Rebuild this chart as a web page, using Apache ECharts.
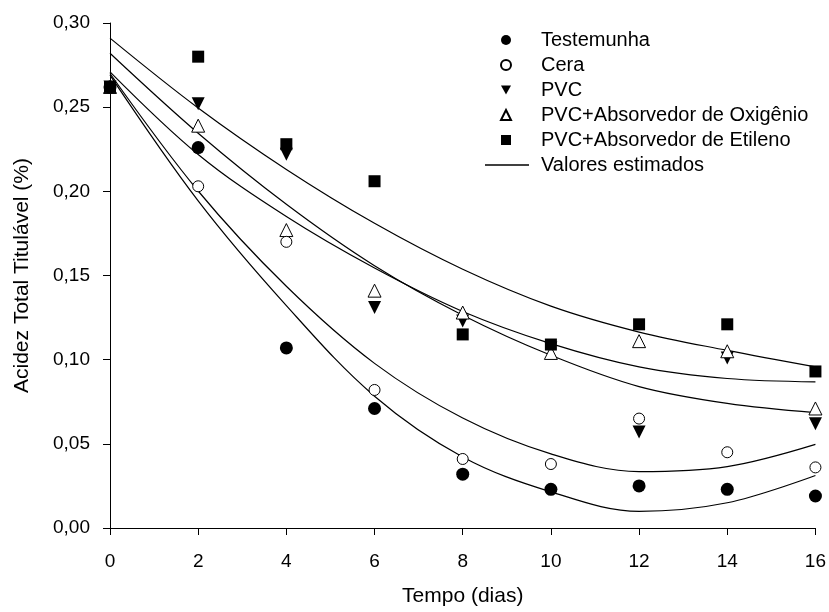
<!DOCTYPE html>
<html>
<head>
<meta charset="utf-8">
<script src="https://cdn.jsdelivr.net/npm/echarts@6/dist/echarts.min.js"></script>
<style>
  html, body { margin: 0; padding: 0; background: #fff; }
  #chart { width: 829px; height: 612px; }
</style>
</head>
<body>
<div id="chart"></div>
<script>
// ---- data ----
const days = [0, 2, 4, 6, 8, 10, 12, 14, 16];
const yTicks = [0, 0.05, 0.10, 0.15, 0.20, 0.25, 0.30];

const testemunha = [0.262, 0.226, 0.107, 0.071, 0.032, 0.023, 0.025, 0.023, 0.019];
const cera       = [0.262, 0.203, 0.170, 0.082, 0.041, 0.038, 0.065, 0.045, 0.036];
const pvc        = [0.262, 0.252, 0.222, 0.131, 0.123, 0.107, 0.057, 0.101, 0.062];
const pvcOxi     = [0.262, 0.239, 0.177, 0.141, 0.128, 0.104, 0.111, 0.105, 0.071];
const pvcEtileno = [0.262, 0.280, 0.228, 0.206, 0.115, 0.109, 0.121, 0.121, 0.093];

// estimated (fitted) curves, read at each day
const estEtileno    = [0.291, 0.2495, 0.213, 0.181, 0.1537, 0.1318, 0.1164, 0.1055, 0.0957];
const estPvc        = [0.282, 0.2345, 0.1923, 0.1558, 0.1264, 0.1026, 0.084, 0.074, 0.0685];
const estPvcOxi     = [0.271, 0.2219, 0.185, 0.1544, 0.1286, 0.1095, 0.0957, 0.0888, 0.0868];
const estCera       = [0.270, 0.2002, 0.1436, 0.0978, 0.0653, 0.044, 0.0335, 0.0365, 0.0497];
const estTestemunha = [0.269, 0.1943, 0.1321, 0.0783, 0.0422, 0.0215, 0.0099, 0.0150, 0.0312];

const markerNames = ['Testemunha', 'Cera', 'PVC', 'PVC+Absorvedor de Oxigênio', 'PVC+Absorvedor de Etileno'];
const curveName = 'Valores estimados';

// ---- build ----
const pair = arr => arr.map((v, i) => [days[i], v]);
const FONT = 'Liberation Sans, Arial, sans-serif';

function curve(arr) {
  return {
    name: curveName, type: 'line', data: pair(arr),
    smooth: 0.35, symbol: 'none', showSymbol: false, silent: true,
    lineStyle: { color: '#000', width: 1.2 }, itemStyle: { color: '#000' }, z: 2
  };
}
function pts(name, arr, symbol, size, filled, rot) {
  return {
    name, type: 'scatter', data: pair(arr), symbol, symbolSize: size,
    symbolRotate: rot || 0,
    itemStyle: filled
      ? { color: '#000', opacity: 1 }
      : { color: '#fff', borderColor: '#000', borderWidth: 1, opacity: 1 },
    z: 3
  };
}

const legendText = { fontFamily: FONT, fontSize: 20, color: '#000', lineHeight: 20 };
const markerLegendData = markerNames.map(n =>
  n === 'PVC' ? { name: n, icon: 'path://M0,0L10,0L5,9Z' } : n
);

const chart = echarts.init(document.getElementById('chart'), null, { renderer: 'canvas' });
chart.setOption({
  animation: false,
  backgroundColor: '#fff',
  grid: { left: 110, right: 13, top: 23, bottom: 82, containLabel: false },
  xAxis: {
    type: 'value', min: 0, max: 16, interval: 2,
    name: 'Tempo (dias)', nameLocation: 'middle', nameGap: 58,
    nameTextStyle: { fontFamily: FONT, fontSize: 21, color: '#000' },
    axisLine: { lineStyle: { color: '#000', width: 1 } },
    axisTick: { inside: false, length: 7, lineStyle: { color: '#000' } },
    axisLabel: { fontFamily: FONT, fontSize: 19, color: '#000', margin: 24 },
    splitLine: { show: false }
  },
  yAxis: {
    type: 'value', min: 0, max: 0.30, interval: 0.05,
    name: 'Acidez Total Titulável (%)', nameLocation: 'middle', nameGap: 77,
    nameTextStyle: { fontFamily: FONT, fontSize: 21, color: '#000' },
    axisLine: { show: true, lineStyle: { color: '#000', width: 1 } },
    axisTick: { show: true, inside: false, length: 7, lineStyle: { color: '#000' } },
    axisLabel: {
      fontFamily: FONT, fontSize: 19, color: '#000', margin: 20,
      formatter: v => {
        const t = yTicks.find(k => Math.abs(k - v) < 1e-9);
        return (t !== undefined ? t : v).toFixed(2).replace('.', ',');
      }
    },
    splitLine: { show: false }
  },
  legend: [
    {
      orient: 'vertical', left: 495, top: 25,
      itemWidth: 10, itemHeight: 10, itemGap: 5,
      data: markerLegendData,
      textStyle: Object.assign({ padding: [0, 0, 0, 25] }, legendText),
      selectedMode: false
    },
    {
      orient: 'vertical', left: 480, top: 150,
      itemWidth: 44, itemHeight: 1.3, itemGap: 5,
      data: [{ name: curveName, icon: 'rect', itemStyle: { color: '#000', borderWidth: 0 } }],
      textStyle: Object.assign({ padding: [0, 0, 0, 7] }, legendText),
      selectedMode: false
    }
  ],
  series: [
    curve(estEtileno), curve(estPvc), curve(estPvcOxi), curve(estCera), curve(estTestemunha),
    pts('PVC', pvc, 'triangle', 13, true, 180),
    pts('PVC+Absorvedor de Oxigênio', pvcOxi, 'triangle', 13, false),
    pts('PVC+Absorvedor de Etileno', pvcEtileno, 'rect', 12, true),
    pts('Cera', cera, 'circle', 11, false),
    pts('Testemunha', testemunha, 'circle', 13, true)
  ]
});
</script>
</body>
</html>
